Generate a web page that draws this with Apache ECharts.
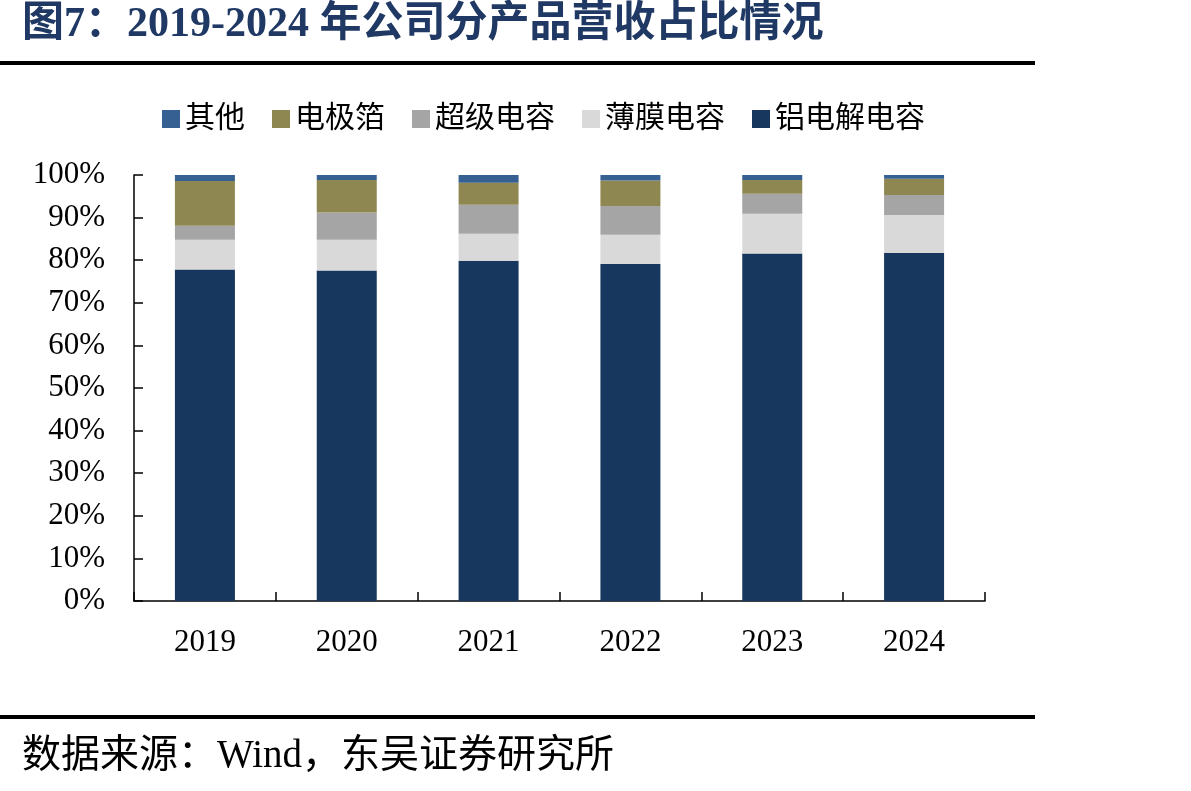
<!DOCTYPE html>
<html>
<head>
<meta charset="utf-8">
<script src="https://cdn.jsdelivr.net/npm/echarts@6/dist/echarts.min.js"></script>
<style>
  html, body { margin: 0; padding: 0; background: #fff; }
  #main { width: 1191px; height: 791px; }
</style>
</head>
<body>
<div id="main"></div>
<script>
// 年份
var years = ['2019', '2020', '2021', '2022', '2023', '2024'];
// 各产品占比(%)
var lvdianjie = [77.8, 77.6, 79.9, 79.1, 81.6, 81.7];   // 铝电解电容
var bomo = [7.0, 7.2, 6.3, 6.9, 9.3, 8.9];              // 薄膜电容
var chaoji = [3.3, 6.4, 6.8, 6.7, 4.7, 4.7];            // 超级电容
var dianjibo = [10.5, 7.6, 5.2, 6.0, 3.2, 3.8];         // 电极箔
var qita = [1.4, 1.2, 1.8, 1.3, 1.2, 0.9];              // 其他
var yTicks = ['0%', '10%', '20%', '30%', '40%', '50%', '60%', '70%', '80%', '90%', '100%'];

var serifFont = '"Liberation Serif", "Times New Roman", "Noto Sans CJK SC", serif';

function barSeries(name, data, color) {
    return {
        name: name,
        type: 'bar',
        stack: 'total',
        barWidth: 60,
        data: data,
        itemStyle: { color: color }
    };
}

var myChart = echarts.init(document.getElementById('main'));

var option = {
    backgroundColor: '#fff',
    animation: false,
    legend: {
        data: ['其他', '电极箔', '超级电容', '薄膜电容', '铝电解电容'],
        left: 157,
        top: 99,
        itemWidth: 18,
        itemHeight: 18,
        itemGap: 27,
        icon: 'rect',
        textStyle: {
            fontFamily: serifFont,
            fontSize: 30,
            color: '#000'
        }
    },
    grid: {
        left: 134,
        right: 206,
        top: 175,
        bottom: 190
    },
    xAxis: {
        type: 'category',
        data: years,
        axisLine: { lineStyle: { color: '#000', width: 1.5 } },
        axisTick: { show: true, inside: true, length: 9, lineStyle: { color: '#000', width: 1.5 } },
        axisLabel: {
            margin: 26,
            fontFamily: serifFont,
            fontSize: 31,
            color: '#000'
        }
    },
    yAxis: {
        type: 'value',
        min: 0,
        max: 100,
        interval: 10,
        axisLine: { show: true, lineStyle: { color: '#000', width: 1.5 } },
        axisTick: { show: true, inside: true, length: 9, lineStyle: { color: '#000', width: 1.5 } },
        splitLine: { show: false },
        axisLabel: {
            margin: 29,
            fontFamily: serifFont,
            fontSize: 31,
            color: '#000',
            formatter: function (v) { return yTicks[Math.round(v / 10)]; }
        }
    },
    series: [
        barSeries('铝电解电容', lvdianjie, '#17375E'),
        barSeries('薄膜电容', bomo, '#D9D9D9'),
        barSeries('超级电容', chaoji, '#A5A5A5'),
        barSeries('电极箔', dianjibo, '#8F8751'),
        barSeries('其他', qita, '#366092')
    ],
    graphic: [
        {
            type: 'text',
            left: 22,
            top: 4,
            style: {
                text: '图7：2019-2024 年公司分产品营收占比情况',
                fontFamily: serifFont,
                fontSize: 42,
                fontWeight: 'bold',
                fill: '#1F3864'
            }
        },
        {
            type: 'rect',
            shape: { x: 0, y: 61, width: 1035, height: 4 },
            style: { fill: '#000' }
        },
        {
            type: 'rect',
            shape: { x: 0, y: 715, width: 1035, height: 4 },
            style: { fill: '#000' }
        },
        {
            type: 'text',
            left: 22,
            top: 737,
            style: {
                text: '数据来源：Wind，东吴证券研究所',
                fontFamily: serifFont,
                fontSize: 39,
                fill: '#000'
            }
        }
    ]
};

myChart.setOption(option);
</script>
</body>
</html>
